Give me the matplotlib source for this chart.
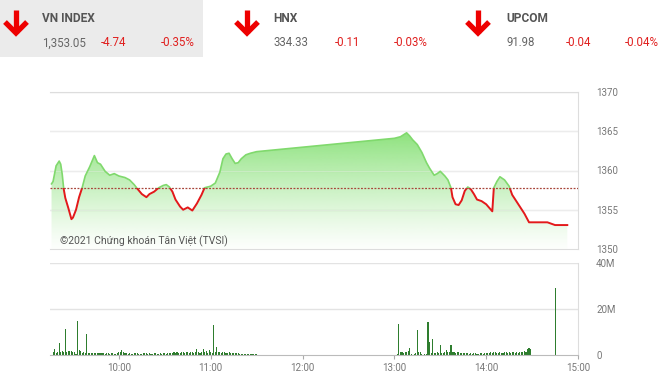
import numpy as np
import matplotlib
matplotlib.use("Agg")
import matplotlib.pyplot as plt
from matplotlib.patches import Rectangle
from matplotlib.lines import Line2D

plt.rcParams['font.family'] = ['Roboto', 'DejaVu Sans']

# header quotes
index_names = ["VN INDEX", "HNX", "UPCOM"]
index_values = ["1,353.05", "334.33", "91.98"]
index_changes = ["-4.74", "-0.11", "-0.04"]
index_pcts = ["-0.35%", "-0.03%", "-0.04%"]

ref_price = 1357.79

# intraday index (time, points)
price_times = ["09:16", "09:17", "09:19", "09:21", "09:22", "09:23", "09:24", "09:25", "09:27", "09:29",
               "09:30", "09:32", "09:34", "09:36", "09:38", "09:41", "09:44", "09:46", "09:48", "09:51",
               "09:54", "09:57", "10:00", "10:04", "10:07", "10:10", "10:12", "10:15", "10:18", "10:20",
               "10:23", "10:26", "10:29", "10:31", "10:33", "10:35", "10:37", "10:40", "10:42", "10:45",
               "10:48", "10:51", "10:54", "10:56", "11:00", "11:03", "11:06", "11:08", "11:10", "11:12",
               "11:14", "11:16", "11:18", "11:20", "11:23", "11:26", "11:30", "13:00", "13:04", "13:08",
               "13:10", "13:12", "13:15", "13:18", "13:21", "13:23", "13:26", "13:28", "13:30", "13:33",
               "13:35", "13:37", "13:38", "13:40", "13:42", "13:44", "13:46", "13:48", "13:50", "13:52",
               "13:54", "13:57", "14:00", "14:04", "14:05", "14:07", "14:09", "14:12", "14:15", "14:17",
               "14:20", "14:23", "14:25", "14:28", "14:40", "14:45", "14:53"]
price_values = [1358.3, 1358.6, 1360.6, 1361.2, 1360.8, 1359.5, 1357.6, 1356.5, 1355.2, 1353.8,
                1354.0, 1355.0, 1356.6, 1357.8, 1359.3, 1360.5, 1361.9, 1361.0, 1360.8, 1359.9,
                1359.4, 1359.6, 1359.3, 1359.1, 1358.8, 1358.2, 1357.7, 1357.0, 1356.6, 1357.0,
                1357.3, 1357.8, 1358.1, 1358.2, 1357.9, 1357.3, 1356.3, 1355.4, 1355.0, 1355.3,
                1354.9, 1355.8, 1356.9, 1357.8, 1358.0, 1358.4, 1359.8, 1361.5, 1362.1, 1362.2,
                1361.5, 1360.9, 1361.0, 1361.5, 1362.0, 1362.2, 1362.4, 1364.1, 1364.3, 1364.8,
                1364.4, 1363.9, 1363.3, 1362.3, 1361.0, 1360.3, 1359.4, 1359.6, 1359.9, 1359.3,
                1358.8, 1357.8, 1356.6, 1355.7, 1355.6, 1356.2, 1357.4, 1357.9, 1357.6, 1357.0,
                1356.3, 1356.1, 1355.7, 1354.8, 1357.8, 1358.6, 1359.2, 1358.8, 1358.0, 1356.9,
                1356.0, 1355.1, 1354.5, 1353.4, 1353.4, 1353.05, 1353.05]

# volume per minute, millions of shares
vol_morning_start = "09:15"
vol_morning = [0, 0, 1.2, 2.4, 1.0, 1.3, 5.2, 1.1, 1.6, 1.2,
               11.3, 1.5, 1.8, 1.6, 1.7, 1.4, 1.2, 0.5, 14.8, 2.2,
               1.9, 1.0, 1.2, 0.8, 9.1, 1.0, 0.9, 0.8, 1.0, 0.8,
               0.9, 0.7, 0.8, 0.9, 0.7, 0.8, 0.6, 0.7, 0.9, 0.6,
               0.7, 0.8, 0.6, 0.5, 0.8, 1.2, 1.5, 2.2, 1.4, 0.9,
               0.8, 0.6, 0.7, 0.5, 0.6, 0.8, 0.7, 0.9, 0.6, 0.5,
               0.6, 0.7, 1.0, 0.8, 0.6, 0.7, 0.5, 0.6, 0.8, 0.7,
               0.6, 0.5, 0.7, 0.6, 0.8, 0.7, 0.6, 0.9, 0.8, 1.0,
               0.9, 1.1, 0.8, 1.2, 1.0, 0.9, 1.3, 1.1, 1.0, 1.4,
               1.2, 1.0, 1.5, 1.1, 0.9, 1.3, 2.4, 1.2, 1.0, 1.4,
               2.8, 1.2, 1.6, 1.0, 2.2, 1.5, 0.8, 13.0, 1.2, 3.5,
               1.4, 1.2, 1.0, 1.3, 1.1, 0.9, 1.0, 1.2, 0.8, 0.9,
               1.0, 0.8, 0.7, 0.9, 0.6, 0.5, 0.4, 0.5, 0.4, 0.3,
               0.4, 0.3, 0.4, 0.3, 0.4, 0.5]
vol_afternoon_start = "13:00"
vol_afternoon = [0, 0, 0.5, 13.5, 1.5, 1.2, 1.0, 1.4, 1.1, 1.6,
                 3.0, 0.6, 0.2, 0.3, 0.8, 11.0, 1.5, 1.2, 0.3, 0.2,
                 0.4, 0.6, 14.4, 5.6, 0.8, 7.0, 1.0, 0.9, 1.1, 0.8,
                 4.3, 1.0, 0.8, 1.2, 2.0, 1.1, 1.3, 4.3, 1.5, 1.2,
                 1.0, 1.3, 1.1, 0.9, 1.0, 0.8, 0.9, 0.7, 0.8, 0.6,
                 0.7, 0.6, 0.8, 0.7, 0.5, 0.6, 0.7, 0.8, 0.6, 0.7,
                 0.9, 0.8, 1.0, 1.2, 0.9, 1.5, 1.1, 1.0, 0.8, 1.2,
                 1.0, 0.9, 1.1, 1.3, 1.0, 1.2, 0.9, 1.1, 1.4, 1.0,
                 1.2, 1.0, 1.5, 1.3, 1.1, 1.6, 1.4, 2.6, 2.9, 2.7,
                 0, 0, 0, 0.2, 0, 0, 0.2, 0, 0.2, 0,
                 0, 0, 0.2, 0, 0, 29.0]

hour_labels = ["10:00", "11:00", "12:00", "13:00", "14:00", "15:00"]


def to_min(s):
    h, m = s.split(":")
    return int(h) * 60 + int(m)


W, H = 660, 383
fig = plt.figure(figsize=(W / 100, H / 100), dpi=100)


def fx(px):
    return px / W


def fy(py):
    return 1 - py / H


# ---- header ----
fig.patches.append(Rectangle((0, fy(57)), fx(203), 57 / H, transform=fig.transFigure,
                             facecolor="#ebebeb", edgecolor="none", zorder=0))
arrow_x = [16, 247, 478]
name_x = [42, 273, 506]
chg_x = [101, 335, 566]
pct_right = [195, 428, 659]
red = "#e0201f"
for i in range(3):
    ax0 = arrow_x[i]
    for xs, ys in [([ax0, ax0], [10, 33]), ([ax0 - 11, ax0, ax0 + 11], [22, 33, 22])]:
        fig.add_artist(Line2D([fx(v) for v in xs], [fy(v) for v in ys], transform=fig.transFigure,
                              color="#ee0000", lw=3.8, solid_capstyle="butt", solid_joinstyle="miter"))
    fig.text(fx(name_x[i]), fy(18), index_names[i], fontsize=8.6, fontweight="bold",
             color="#555555", va="center", ha="left")
    fig.text(fx(name_x[i]), fy(43), index_values[i], fontsize=8.3, color="#666666", va="center")
    fig.text(fx(chg_x[i]), fy(43), index_changes[i], fontsize=8.3, color=red, va="center")
    fig.text(fx(pct_right[i]), fy(43), index_pcts[i], fontsize=8.3, color=red, va="center", ha="right")

# ---- price chart ----
x0, x1 = to_min("09:15"), to_min("15:00")
ax = fig.add_axes([fx(50), fy(249), fx(578) - fx(50), (249 - 92) / H])
t = np.array([to_min(s) for s in price_times])
p = np.array(price_values)

ax.set_xlim(x0, x1)
ax.set_ylim(1350, 1370)
for lv in [1355, 1360, 1365, 1370]:
    ax.axhline(lv, color="#e3e3e3", lw=1, zorder=0)
    ax.axhline(lv, color="#ffffff", lw=0.8, alpha=0.35, zorder=2)

poly = ax.fill_between(t, p, 1350, facecolor="none", edgecolor="none")
grad = np.zeros((256, 1, 4))
green = np.array([140, 226, 124]) / 255
a = np.linspace(0.04, 1, 256) ** 1.25
grad[:, 0, :3] = green
grad[:, 0, 3] = a
im = ax.imshow(grad, extent=[x0, x1, 1350, 1365], origin="lower", aspect="auto", zorder=1)
im.set_clip_path(poly.get_paths()[0], ax.transData)

up_line, = ax.plot(t, p, color="#80d96d", lw=1.2, zorder=3)
dn_line, = ax.plot(t, p, color="#e3191b", lw=1.4, zorder=3)
dn_line.set_clip_path(Rectangle((x0, 1340), x1 - x0, ref_price - 1340, transform=ax.transData))
up_line.set_clip_path(Rectangle((x0, ref_price), x1 - x0, 40, transform=ax.transData))
ax.axhline(ref_price, color="#a8453a", lw=0.9, ls=(0, (1.5, 1.2)), zorder=4)

ax.set_yticks([1350, 1355, 1360, 1365, 1370])
ax.yaxis.tick_right()
ax.tick_params(axis="y", length=0, pad=13, labelsize=7, labelcolor="#777777")
ax.set_xticks([])
ax.spines["left"].set_visible(False)
for s in ["top", "right", "bottom"]:
    ax.spines[s].set_color("#dddddd")
ax.text(0.019, 0.05, "\u00a92021 Ch\u1ee9ng kho\u00e1n T\u00e2n Vi\u1ec7t (TVSI)", transform=ax.transAxes,
        fontsize=7.5, color="#555555", va="center", ha="left", zorder=5)

# ---- volume chart ----
axv = fig.add_axes([fx(50), fy(355), fx(578) - fx(50), (355 - 263) / H])
tm = to_min(vol_morning_start) + np.arange(len(vol_morning))
ta = to_min(vol_afternoon_start) + np.arange(len(vol_afternoon))
axv.bar(tm, vol_morning, width=0.7, color="#2e7d2e", zorder=2)
axv.bar(ta, vol_afternoon, width=0.7, color="#2e7d2e", zorder=2)
axv.set_xlim(x0, x1)
axv.set_ylim(0, 40)
for lv in [20, 40]:
    axv.axhline(lv, color="#e3e3e3", lw=1, zorder=0)
axv.set_yticks([0, 20, 40])
axv.set_yticklabels(["0", "20M", "40M"])
axv.yaxis.tick_right()
axv.tick_params(axis="y", length=0, pad=13, labelsize=7, labelcolor="#777777")
axv.set_xticks([to_min(s) for s in hour_labels])
axv.set_xticklabels(hour_labels)
axv.tick_params(axis="x", length=3, color="#aaaaaa", labelsize=7, labelcolor="#777777", pad=3)
axv.spines["left"].set_visible(False)
axv.spines["top"].set_visible(False)
axv.spines["right"].set_color("#dddddd")
axv.spines["bottom"].set_color("#bbbbbb")

fig.savefig("out.png", dpi=100)
